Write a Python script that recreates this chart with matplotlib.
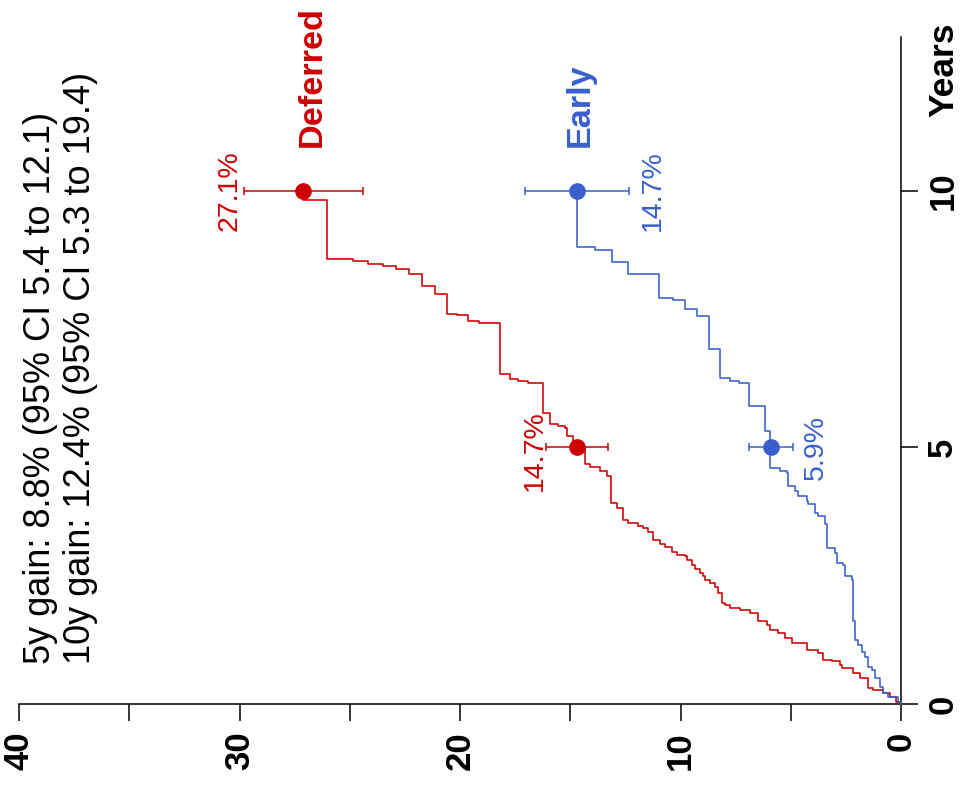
import numpy as np
import matplotlib
matplotlib.use("Agg")
import matplotlib.pyplot as plt

plt.rcParams.update({"font.family": ["Liberation Sans", "DejaVu Sans"]})

C_DEF = "#CD0000"
C_EAR = "#3A5FCD"

# cumulative incidence (%) step curves: event times (years) and level after each event
red_years = [0.04, 0.14, 0.21, 0.27, 0.31, 0.50, 0.60, 0.70, 0.76, 0.83, 0.86, 0.99,
             1.05, 1.19, 1.28, 1.39, 1.45, 1.54, 1.61, 1.77, 1.84, 1.87, 1.93, 1.96,
             2.16, 2.29, 2.36, 2.42, 2.49, 2.56, 2.63, 2.71, 2.81, 2.88, 2.91, 2.97,
             3.06, 3.11, 3.20, 3.35, 3.43, 3.46, 3.53, 3.59, 3.82, 3.92, 4.44, 4.54,
             4.62, 4.67, 5.00, 5.22, 5.38, 5.42, 5.45, 5.68, 6.26, 6.29, 6.33, 6.43,
             7.42, 7.47, 7.58, 7.60, 7.99, 8.15, 8.38, 8.48, 8.53, 8.57, 8.64, 8.67,
             9.83]
red_pct = [0.23, 0.50, 0.80, 1.25, 1.48, 1.86, 2.16, 2.69, 2.77, 3.14, 3.52, 3.75,
           4.28, 4.96, 5.26, 5.56, 5.94, 6.09, 6.47, 6.85, 7.30, 7.76, 7.98, 8.13,
           8.30, 8.44, 8.66, 8.89, 8.96, 9.12, 9.34, 9.49, 9.72, 9.80, 10.17, 10.40,
           10.70, 10.93, 11.23, 11.46, 11.69, 11.91, 12.36, 12.59, 12.89, 13.15, 13.35, 13.65,
           14.10, 14.33, 14.87, 15.16, 15.24, 15.54, 15.92, 16.22, 16.90, 17.35, 17.73, 18.19,
           19.12, 19.62, 20.15, 20.60, 21.13, 21.74, 22.30, 22.90, 23.50, 24.16, 24.84, 26.05,
           27.10]
blue_years = [0.03, 0.14, 0.21, 0.34, 0.50, 0.66, 0.73, 0.92, 1.02, 1.15, 1.25, 1.61,
              2.42, 2.49, 2.71, 2.75, 2.94, 3.04, 3.50, 3.66, 3.72, 3.89, 3.95, 4.05,
              4.15, 4.24, 4.51, 4.54, 4.60, 5.32, 5.81, 6.25, 6.30, 6.35, 6.91, 7.57,
              7.70, 7.87, 7.91, 8.39, 8.61, 8.85, 8.91]
blue_pct = [0.12, 0.58, 0.80, 0.95, 1.18, 1.33, 1.48, 1.63, 1.78, 1.94, 2.09, 2.16,
            2.24, 2.54, 2.62, 2.92, 2.99, 3.37, 3.45, 3.75, 3.90, 4.20, 4.28, 4.66,
            4.81, 5.11, 5.18, 5.49, 5.94, 6.17, 6.88, 7.33, 7.76, 8.20, 8.69, 9.24,
            9.80, 10.36, 10.96, 12.40, 13.12, 13.88, 14.68]
follow_end = 10.0

# point estimates with 95% CI at 5 and 10 years
est_years = [5, 10]
red_est = [14.7, 27.1]
red_lo = [13.3, 24.4]
red_hi = [16.1, 29.8]
blue_est = [5.9, 14.7]
blue_lo = [4.9, 12.35]
blue_hi = [6.9, 17.05]

gain_text = "5y gain: 8.8% (95% CI 5.4 to 12.1)\n10y gain: 12.4% (95% CI 5.3 to 19.4)"

fig = plt.figure(figsize=(9.6, 7.85), dpi=100)
ax = fig.add_axes([19 / 960, 81 / 785, 882 / 960, 667 / 785])
ax.set_xlim(40, 0)
ax.set_ylim(0, 13)


def steps(years, pct, color):
    x = [0.0] + list(pct) + [pct[-1]]
    y = [0.0] + list(years) + [follow_end]
    ax.plot(x, y, drawstyle="steps-pre", color=color, lw=1.15, clip_on=False, zorder=3)


steps(red_years, red_pct, C_DEF)
steps(blue_years, blue_pct, C_EAR)

for est, lo, hi, col in [(red_est, red_lo, red_hi, C_DEF), (blue_est, blue_lo, blue_hi, C_EAR)]:
    est = np.array(est); lo = np.array(lo); hi = np.array(hi)
    ax.errorbar(est, est_years, xerr=[est - lo, hi - est], fmt="o", color=col,
                ms=11, elinewidth=1.1, capsize=3, capthick=1.1, zorder=4, clip_on=False)

# value labels
lab_kw = dict(rotation=90, fontsize=20.5, va="center")
ax.text(29.84, 10, "27.1%", color=C_DEF, ha="right", **lab_kw)
ax.text(16.0, 4.93, "14.7%", color=C_DEF, ha="right", **lab_kw)
ax.text(11.86, 10, "14.7%", color=C_EAR, ha="left", **lab_kw)
ax.text(4.46, 5.0, "5.9%", color=C_EAR, ha="left", **lab_kw)

# group labels
ax.text(26.7, 10.86, "Deferred", color=C_DEF, rotation=90, fontsize=24.7,
        fontweight="bold", ha="center", va="bottom")
ax.text(14.55, 10.86, "Early", color=C_EAR, rotation=90, fontsize=24.7,
        fontweight="bold", ha="center", va="bottom")

ax.text(39.84, 0.77, gain_text, rotation=90, fontsize=26, ha="left", va="bottom",
        multialignment="left")

# axes
for s in ["left", "top"]:
    ax.spines[s].set_visible(False)
for s in ["right", "bottom"]:
    ax.spines[s].set_linewidth(1.1)

ax.set_xticks([0, 10, 20, 30, 40])
ax.set_xticks([5, 15, 25, 35], minor=True)
ax.set_xticklabels(["0", "10", "20", "30", "40"], rotation=90, fontweight="bold",
                   fontsize=25, ha="center", va="top")
ax.tick_params(axis="x", which="both", length=12.5, width=1.1, pad=7.2)

ax.yaxis.tick_right()
ax.set_yticks([0, 5, 10])
ax.set_yticklabels(["0", "5", "10"], rotation=90, fontweight="bold", fontsize=25,
                   ha="left", va="center")
ax.tick_params(axis="y", length=12.5, width=1.1, pad=5.8)

ax.text(-1.18, 11.45, "Years", rotation=90, fontsize=25.5, fontweight="bold",
        ha="left", va="bottom")

fig.savefig("out.png", dpi=100)
